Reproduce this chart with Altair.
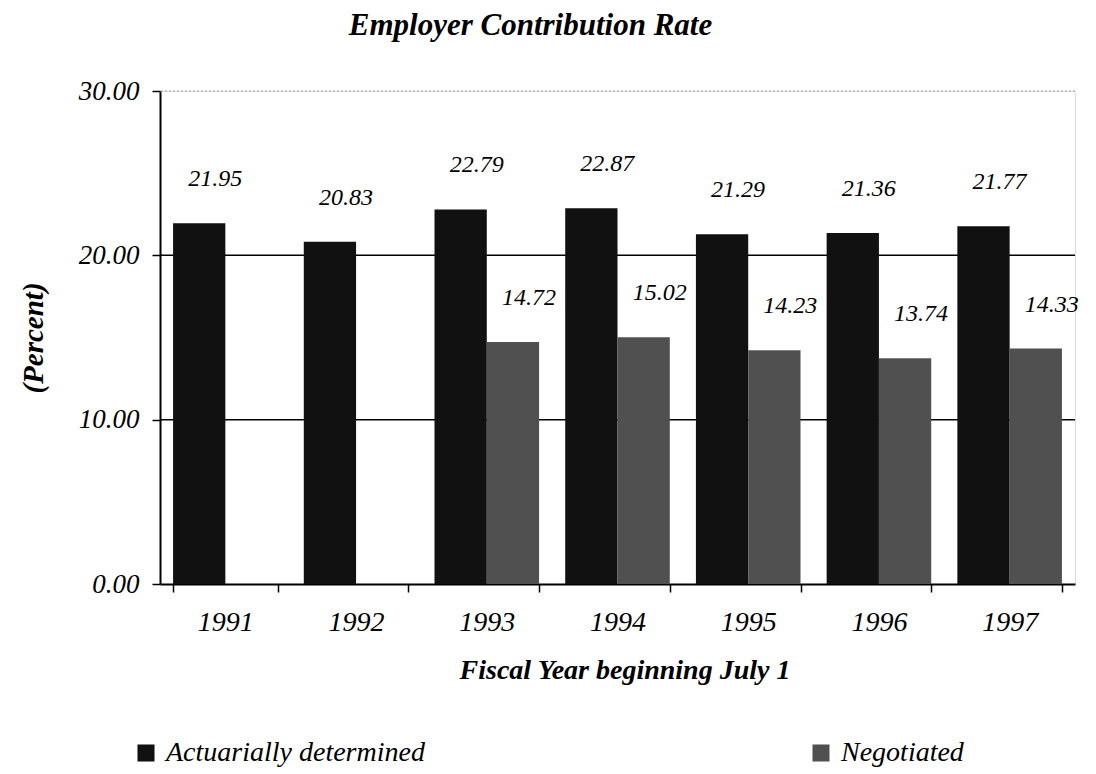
import altair as alt
import pandas as pd

years = ["1991", "1992", "1993", "1994", "1995", "1996", "1997"]
actuarial = [21.95, 20.83, 22.79, 22.87, 21.29, 21.36, 21.77]
negotiated = [None, None, 14.72, 15.02, 14.23, 13.74, 14.33]
series = ["Actuarially determined", "Negotiated"]
colors = ["#111111", "#505050"]
gridlines = [10, 20]
y_ticks = [0, 10, 20, 30]

rows = []
for yr, a, n in zip(years, actuarial, negotiated):
    rows.append({"year": yr, "series": series[0], "value": a, "label": f"{a:.2f}"})
    if n is not None:
        rows.append({"year": yr, "series": series[1], "value": n, "label": f"{n:.2f}"})
df = pd.DataFrame(rows)
grid_df = pd.DataFrame({"v": gridlines})
top_df = pd.DataFrame({"v": [30]})

FONT = "Liberation Serif"
W, H = 915, 493

x_enc = alt.X("year:N", sort=years, title="Fiscal Year beginning July 1",
              scale=alt.Scale(paddingInner=0.2, paddingOuter=0.1),
              axis=alt.Axis(labelAngle=0, labelFont=FONT, labelFontStyle="italic",
                            labelFontSize=28, labelColor="black", labelPadding=16,
                            tickBand="extent", tickSize=8, tickColor="black", tickWidth=1.5,
                            domainColor="black", domainWidth=2,
                            titleFont=FONT, titleFontStyle="italic", titleFontWeight="bold",
                            titleFontSize=28, titleColor="black", titlePadding=20,
                            titleX=W / 2 + 7))
y_scale = alt.Scale(domain=[0, 30])

bars = alt.Chart(df).mark_bar().encode(
    x=x_enc,
    xOffset=alt.XOffset("series:N", sort=series),
    y=alt.Y("value:Q", scale=y_scale, title="(Percent)",
            axis=alt.Axis(values=y_ticks, format=".2f", grid=False,
                          labelFont=FONT, labelFontStyle="italic", labelFontSize=27,
                          labelColor="black", labelPadding=13, tickSize=8, tickWidth=1.5,
                          tickColor="black", domainColor="black", domainWidth=2,
                          titleFont=FONT, titleFontStyle="italic", titleFontWeight="bold",
                          titleFontSize=29, titleColor="black", titlePadding=30)),
    color=alt.Color("series:N", sort=series,
                    scale=alt.Scale(domain=series, range=colors),
                    legend=alt.Legend(title=None, orient="none", legendX=-28, legendY=648,
                                      direction="horizontal", columns=2, columnPadding=382,
                                      symbolType="square", symbolSize=290,
                                      symbolStrokeWidth=0, labelOffset=6,
                                      labelFont=FONT, labelFontStyle="italic",
                                      labelFontSize=28, labelColor="black",
                                      labelLimit=400)),
)

labels = alt.Chart(df).mark_text(dx=16, dy=-44, font=FONT, fontStyle="italic", fontSize=24,
                                 color="black").encode(
    x=alt.X("year:N", sort=years),
    xOffset=alt.XOffset("series:N", sort=series),
    y=alt.Y("value:Q", scale=y_scale),
    text="label:N",
)

grid = alt.Chart(grid_df).mark_rule(color="black", strokeWidth=1.5).encode(
    y=alt.Y("v:Q", scale=y_scale)
)
top = alt.Chart(top_df).mark_rule(color="#999999", strokeWidth=1, strokeDash=[2, 2]).encode(
    y=alt.Y("v:Q", scale=y_scale)
)

chart = alt.layer(grid, top, bars, labels).properties(
    width=W, height=H,
    padding={"left": 11, "top": 2, "right": 5, "bottom": 5},
    title=alt.Title("Employer Contribution Rate", font=FONT, fontStyle="italic",
                    fontWeight="bold", fontSize=31, color="black", offset=35,
                    anchor="middle", dx=-87),
).configure_view(stroke=None).configure(background="white")

chart.save("out.html", embed_options={"renderer": "svg", "actions": False})
